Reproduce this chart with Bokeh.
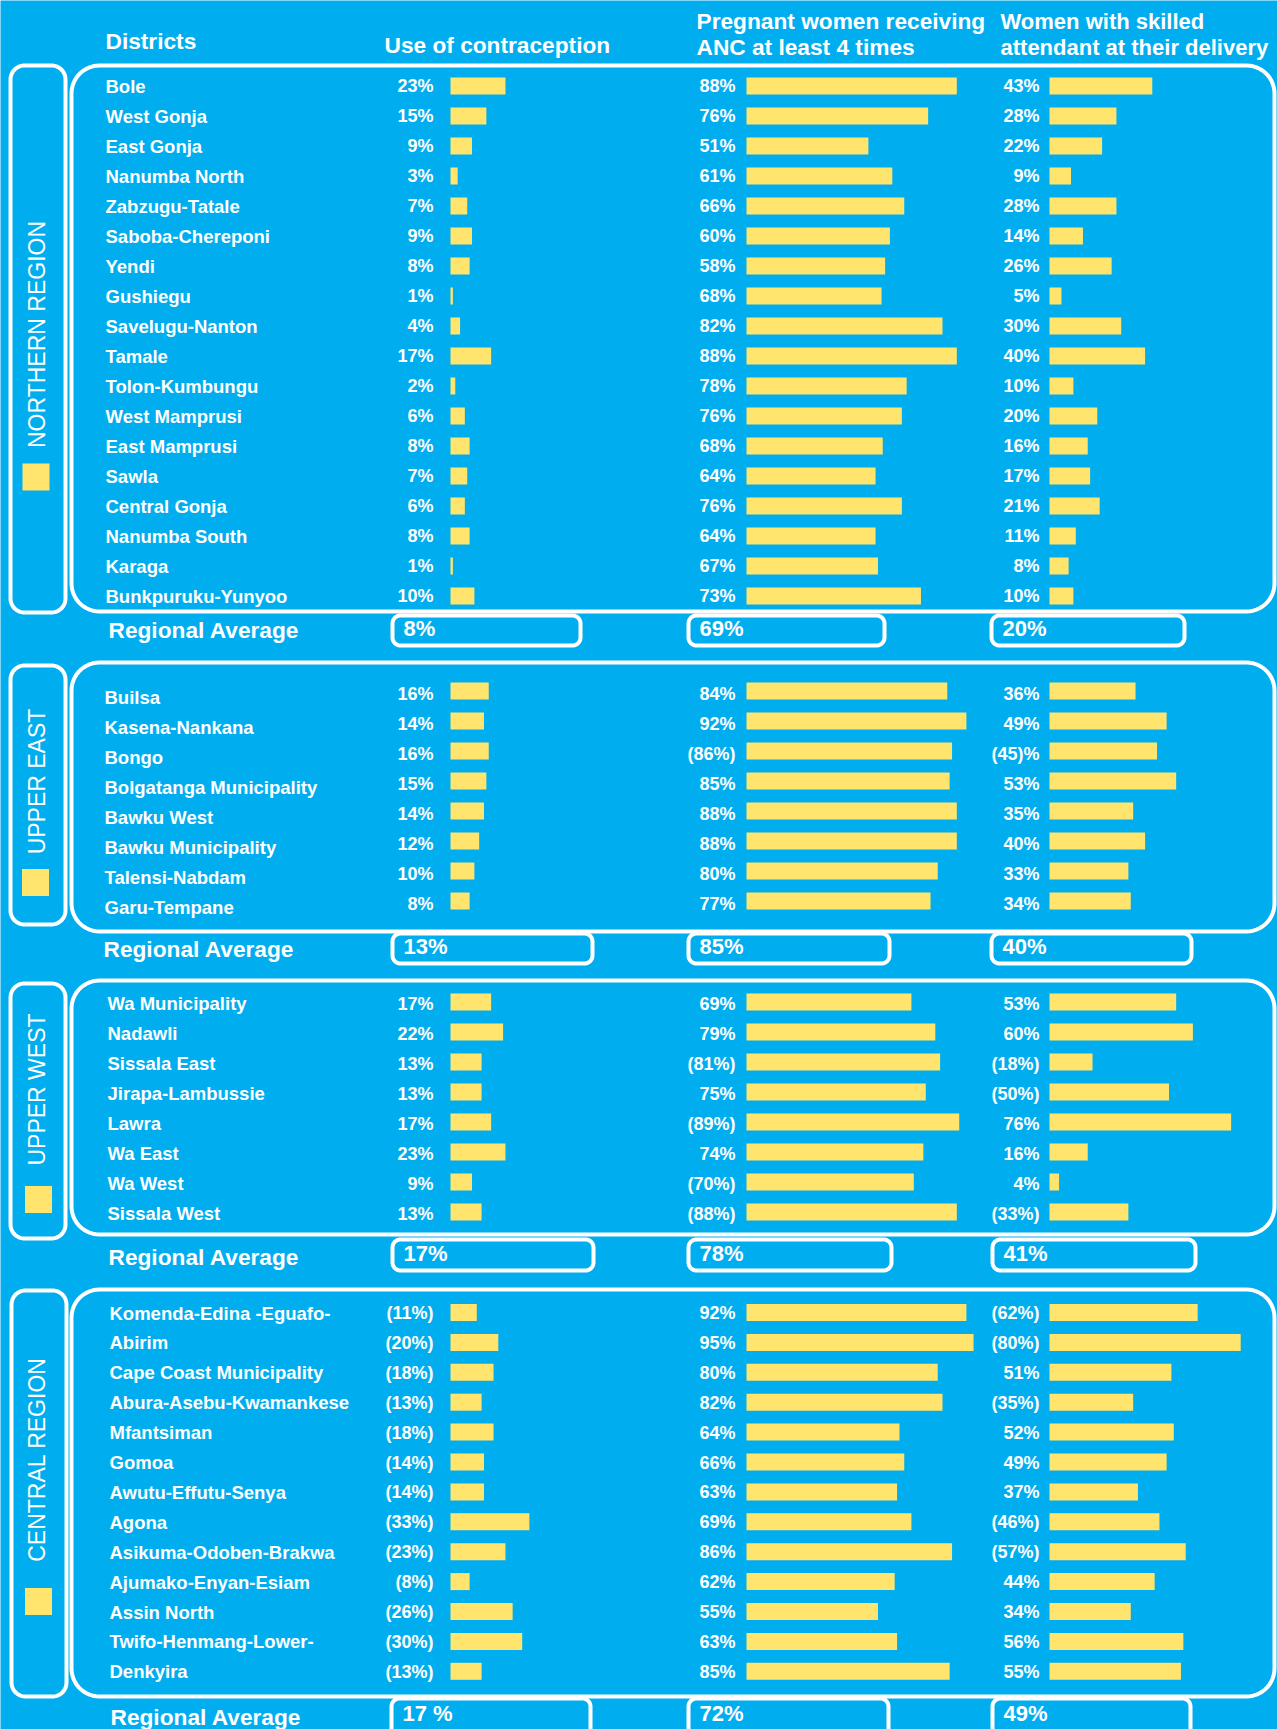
import re
import numpy as np
from bokeh.plotting import figure
from bokeh.models import Range1d
from bokeh.core.properties import value
from bokeh.embed import file_html
from bokeh.resources import INLINE

# ---------------- data ----------------
col_headers = ["Use of contraception",
               "Pregnant women receiving|ANC at least 4 times",
               "Women with skilled|attendant at their delivery"]

north_names = ["Bole", "West Gonja", "East Gonja", "Nanumba North", "Zabzugu-Tatale",
               "Saboba-Chereponi", "Yendi", "Gushiegu", "Savelugu-Nanton", "Tamale",
               "Tolon-Kumbungu", "West Mamprusi", "East Mamprusi", "Sawla", "Central Gonja",
               "Nanumba South", "Karaga", "Bunkpuruku-Yunyoo"]
north_contra = ["23%", "15%", "9%", "3%", "7%", "9%", "8%", "1%", "4%", "17%", "2%", "6%",
                "8%", "7%", "6%", "8%", "1%", "10%"]
north_anc = ["88%", "76%", "51%", "61%", "66%", "60%", "58%", "68%", "82%", "88%", "78%",
             "76%", "68%", "64%", "76%", "64%", "67%", "73%"]
# bar lengths as drawn in the picture (several ANC bars are shorter than their labels)
north_anc_bar = [88, 76, 51, 61, 66, 60, 58, 56.5, 82, 88, 67, 65, 57, 54, 65, 54, 55, 73]
north_skilled = ["43%", "28%", "22%", "9%", "28%", "14%", "26%", "5%", "30%", "40%", "10%",
                 "20%", "16%", "17%", "21%", "11%", "8%", "10%"]
north_avg = ["8%", "69%", "20%"]

east_names = ["Builsa", "Kasena-Nankana", "Bongo", "Bolgatanga Municipality", "Bawku West",
              "Bawku Municipality", "Talensi-Nabdam", "Garu-Tempane"]
east_contra = ["16%", "14%", "16%", "15%", "14%", "12%", "10%", "8%"]
east_anc = ["84%", "92%", "(86%)", "85%", "88%", "88%", "80%", "77%"]
east_skilled = ["36%", "49%", "(45)%", "53%", "35%", "40%", "33%", "34%"]
east_avg = ["13%", "85%", "40%"]

west_names = ["Wa Municipality", "Nadawli", "Sissala East", "Jirapa-Lambussie", "Lawra",
              "Wa East", "Wa West", "Sissala West"]
west_contra = ["17%", "22%", "13%", "13%", "17%", "23%", "9%", "13%"]
west_anc = ["69%", "79%", "(81%)", "75%", "(89%)", "74%", "(70%)", "(88%)"]
west_skilled = ["53%", "60%", "(18%)", "(50%)", "76%", "16%", "4%", "(33%)"]
west_avg = ["17%", "78%", "41%"]

central_names = ["Komenda-Edina -Eguafo-", "Abirim", "Cape Coast Municipality",
                 "Abura-Asebu-Kwamankese", "Mfantsiman", "Gomoa", "Awutu-Effutu-Senya",
                 "Agona", "Asikuma-Odoben-Brakwa", "Ajumako-Enyan-Esiam", "Assin North",
                 "Twifo-Henmang-Lower-", "Denkyira"]
central_contra = ["(11%)", "(20%)", "(18%)", "(13%)", "(18%)", "(14%)", "(14%)", "(33%)",
                  "(23%)", "(8%)", "(26%)", "(30%)", "(13%)"]
central_anc = ["92%", "95%", "80%", "82%", "64%", "66%", "63%", "69%", "86%", "62%", "55%",
               "63%", "85%"]
central_skilled = ["(62%)", "(80%)", "51%", "(35%)", "52%", "49%", "37%", "(46%)", "(57%)",
                   "44%", "34%", "56%", "55%"]
central_avg = ["17 %", "72%", "49%"]

# ---------------- styling / layout ----------------
W, H = 1277, 1729
BG = "#00AEEF"
BAR = "#FFE46E"
WHITE = "#FFFFFF"
FONT = value("Liberation Sans")
PX_PER_PCT = 2.39
BAR_H = 17
LABEL_RIGHT = [433, 735, 1039]
BAR_LEFT = [450, 746, 1049]

regions = [
    dict(title="NORTHERN REGION", names=north_names, cols=[north_contra, north_anc, north_skilled],
         bars={1: north_anc_bar},
         avg=north_avg, main=(71, 65, 1274, 611), side=(10, 65, 65, 612), row0=85.5, step=30.0,
         label_y=334, sq=(35.5, 476.5), ra_x=108, ra_c=629, avg_box=(615, 645), avg_c=628,
         avg_x=[(392, 580), (688, 884), (991, 1184)], name_x=105, name_dc=0, pct_dc=-0.5),
    dict(title="UPPER EAST", names=east_names, cols=[east_contra, east_anc, east_skilled],
         bars={},
         avg=east_avg, main=(71, 662, 1274, 931), side=(10, 665, 65, 924), row0=690.5, step=30.0,
         label_y=781, sq=(35, 882), ra_x=103, ra_c=948, avg_box=(933, 963), avg_c=946,
         avg_x=[(392, 592), (688, 889), (991, 1191)], name_x=104, name_dc=6, pct_dc=2.5),
    dict(title="UPPER WEST", names=west_names, cols=[west_contra, west_anc, west_skilled],
         bars={},
         avg=west_avg, main=(71, 980, 1274, 1234), side=(10, 983, 65, 1238), row0=1001.5, step=30.0,
         label_y=1089, sq=(38, 1199), ra_x=108, ra_c=1256, avg_box=(1239, 1270), avg_c=1253,
         avg_x=[(392, 593), (688, 891), (992, 1195)], name_x=107, name_dc=1.5, pct_dc=1.5),
    dict(title="CENTRAL REGION", names=central_names,
         cols=[central_contra, central_anc, central_skilled],
         bars={},
         avg=central_avg, main=(71, 1289, 1274, 1696), side=(11, 1290, 66, 1696), row0=1312, step=29.9,
         label_y=1459, sq=(38, 1601), ra_x=110, ra_c=1716, avg_box=(1698, 1750), avg_c=1713,
         avg_x=[(391, 590), (688, 888), (992, 1190)], name_x=109, name_dc=0.5, pct_dc=0.5),
]


def num(s):
    return float(re.sub(r"[^0-9.]", "", s))


def rrect(x0, y0, x1, y1, r, n=14):
    xs, ys = [], []
    corners = [(x1 - r, y0 + r, -90, 0), (x1 - r, y1 - r, 0, 90),
               (x0 + r, y1 - r, 90, 180), (x0 + r, y0 + r, 180, 270)]
    for cx, cy, a0, a1 in corners:
        t = np.radians(np.linspace(a0, a1, n))
        xs += list(cx + r * np.cos(t))
        ys += list(cy + r * np.sin(t))
    xs.append(xs[0])
    ys.append(ys[0])
    return xs, ys


p = figure(width=W, height=H, x_range=Range1d(0, W), y_range=Range1d(H, 0),
           output_backend="svg", toolbar_location=None, min_border=0,
           x_axis_location=None, y_axis_location=None)
p.grid.visible = False
p.outline_line_color = None
p.background_fill_color = BG
p.border_fill_color = BG

# headers (y = vertical centre of the capitals)
hx, hy, ht, hs = [105, 384], [40, 44], ["Districts", col_headers[0]], ["22.7px", "22.7px"]
for i, hdr in enumerate(col_headers[1:]):
    l1, l2 = hdr.split("|")
    x = [696, 1000][i]
    fs = ["22.7px", "22px"][i]
    hx += [x, x]
    hy += [20.5, 46.5]
    ht += [l1, l2]
    hs += [fs, fs]
p.text(x=hx, y=hy, text=ht, text_font=FONT, text_font_style="bold", text_font_size=hs,
       text_color=WHITE, text_align="left", text_baseline="middle")

box_xs, box_ys = [], []
bar_y, bar_l, bar_r = [], [], []
nm_x, nm_y, nm_t = [], [], []
pc_x, pc_y, pc_t = [], [], []
ra_x, ra_y = [], []
av_x, av_y, av_t = [], [], []
rl_x, rl_y, rl_t = [], [], []
sq_x, sq_y = [], []

for reg in regions:
    x0, y0, x1, y1 = reg["main"]
    xs, ys = rrect(x0, y0, x1, y1, 28)
    box_xs.append(xs); box_ys.append(ys)
    x0, y0, x1, y1 = reg["side"]
    xs, ys = rrect(x0, y0, x1, y1, 14)
    box_xs.append(xs); box_ys.append(ys)
    top, bot = reg["avg_box"]
    for (ax0, ax1), atxt in zip(reg["avg_x"], reg["avg"]):
        xs, ys = rrect(ax0, top, ax1, bot, 8)
        box_xs.append(xs); box_ys.append(ys)
        av_x.append(ax0 + 11); av_y.append(reg["avg_c"]); av_t.append(atxt)
    ra_x.append(reg["ra_x"]); ra_y.append(reg["ra_c"])
    rl_x.append(36.5); rl_y.append(reg["label_y"]); rl_t.append(reg["title"])
    sq_x.append(reg["sq"][0]); sq_y.append(reg["sq"][1])

    for i, name in enumerate(reg["names"]):
        yc = reg["row0"] + i * reg["step"]
        nm_x.append(reg["name_x"]); nm_y.append(yc + reg["name_dc"]); nm_t.append(name)
        for c, col in enumerate(reg["cols"]):
            lab = col[i]
            v = reg["bars"][c][i] if c in reg["bars"] else num(lab)
            bar_y.append(yc)
            bar_l.append(BAR_LEFT[c])
            bar_r.append(BAR_LEFT[c] + v * PX_PER_PCT)
            pc_x.append(LABEL_RIGHT[c]); pc_y.append(yc + reg["pct_dc"]); pc_t.append(lab)

p.multi_line(xs=box_xs, ys=box_ys, line_color=WHITE, line_width=4, line_join="round")

p.hbar(y=bar_y, left=bar_l, right=bar_r, height=BAR_H, fill_color=BAR, line_color=None)

p.rect(x=sq_x, y=sq_y, width=27, height=27, fill_color=BAR, line_color=None)

p.text(x=nm_x, y=nm_y, text=nm_t, text_font=FONT, text_font_style="bold",
       text_font_size="18.5px", text_color=WHITE, text_align="left", text_baseline="middle")
p.text(x=pc_x, y=pc_y, text=pc_t, text_font=FONT, text_font_style="bold",
       text_font_size="18px", text_color=WHITE, text_align="right", text_baseline="middle")
p.text(x=ra_x, y=ra_y, text=["Regional Average"] * len(ra_x), text_font=FONT,
       text_font_style="bold", text_font_size="22.7px", text_color=WHITE, text_align="left",
       text_baseline="middle")
p.text(x=av_x, y=av_y, text=av_t, text_font=FONT, text_font_style="bold",
       text_font_size="22px", text_color=WHITE, text_align="left", text_baseline="middle")
p.text(x=rl_x, y=rl_y, text=rl_t, angle=np.pi / 2, text_font=FONT, text_font_style="normal",
       text_font_size="23px", text_color=WHITE, text_align="center", text_baseline="middle")

open("out.html", "w").write(file_html(p, INLINE))
